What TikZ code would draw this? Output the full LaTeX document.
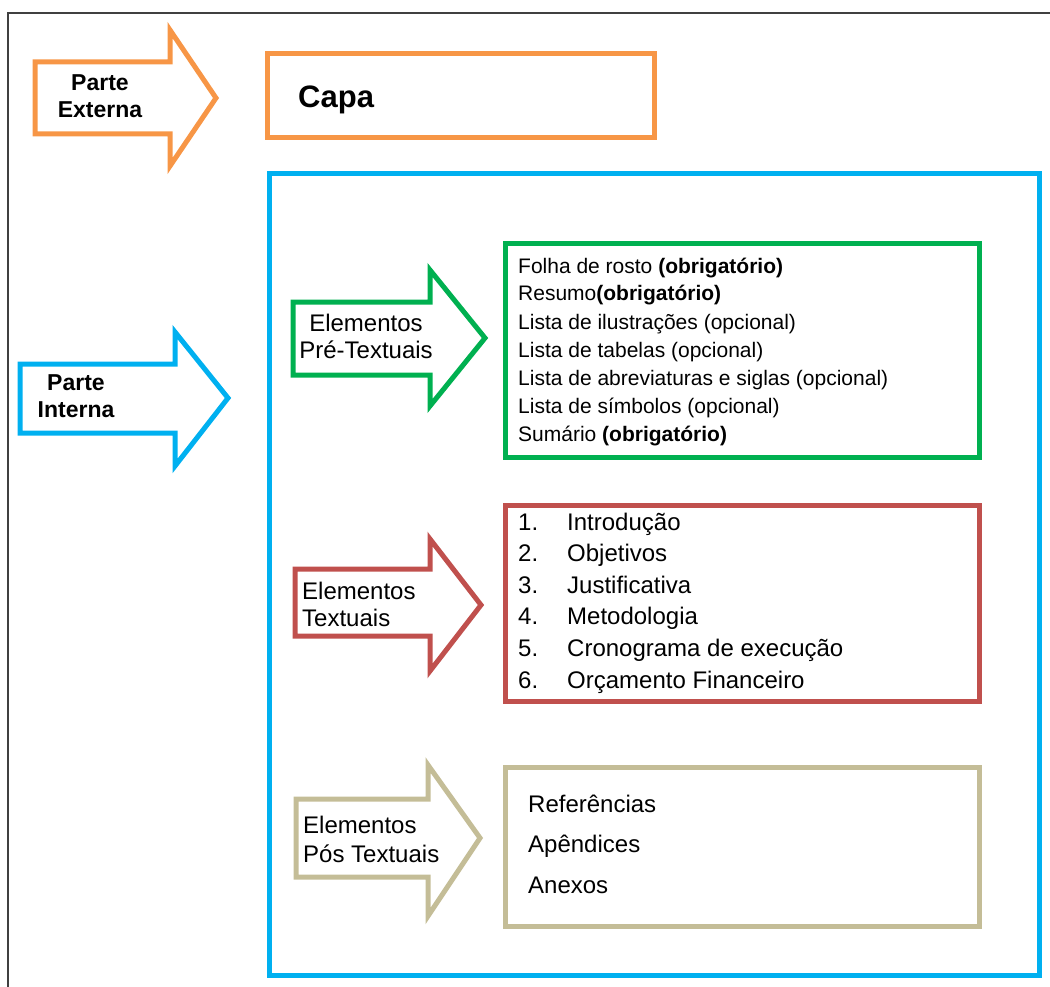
\documentclass[tikz,border=0pt]{standalone}
\usepackage{fontspec}
\setmainfont{Liberation Sans}
\usetikzlibrary{positioning}
\definecolor{extorange}{HTML}{F79646}
\definecolor{intblue}{HTML}{00B0F0}
\definecolor{pregreen}{HTML}{00B050}
\definecolor{txtred}{HTML}{C0504D}
\definecolor{postan}{HTML}{C4BD97}
\tikzset{
  frameline/.style={black!75, line width=1.5pt},
  shapeline/.style={line width=5pt, line join=miter},
  partbox/.style={draw, shapeline, inner sep=0pt, outer sep=0pt, anchor=north west},
  partlabel/.style={inner sep=0pt, align=center, font=\bfseries\fontsize{23}{27}\selectfont},
  armlabel/.style={inner sep=0pt, font=\fontsize{24}{27}\selectfont},
  listitem/.style={inner sep=0pt, anchor=base west, font=\fontsize{21}{28}\selectfont},
  biglist/.style={inner sep=0pt, anchor=base west, font=\fontsize{24}{30}\selectfont},
}

\begin{document}
\begin{tikzpicture}[x=1pt, y=-1pt]
    \useasboundingbox (0,0) rectangle (1050,987);
    % ---------------- page frame ----------------
    \draw[frameline] (8,987) -- (8,13) -- (1050,13);
    % ---------------- parte externa ----------------
    \draw[shapeline, extorange] (35,62) -- (170,62) -- (170,30) -- (216,98)
      -- (170,166) -- (170,134) -- (35,134) -- cycle;
    \node[partlabel] (externa) at (100,96) {Parte\\Externa};
    \node[partbox, draw=extorange, minimum width=387, minimum height=84]
      (capa) at (267,54) {};
    \node[anchor=base west, inner sep=0pt, font=\bfseries\fontsize{31}{31}\selectfont]
      (capatxt) at (298,108) {Capa};
    % ---------------- parte interna ----------------
    \draw[shapeline, intblue] (20,364) -- (175,364) -- (175,332) -- (228,398)
      -- (175,466) -- (175,433) -- (20,433) -- cycle;
    \node[partlabel] (interna) at (76,396) {Parte\\Interna};
    \node[partbox, draw=intblue, minimum width=770, minimum height=801]
      (internabox) at (269,174) {};
    % ---------------- pre-textuais ----------------
    \draw[shapeline, pregreen] (293,302) -- (430,302) -- (430,270) -- (485,338)
      -- (430,406) -- (430,375) -- (293,375) -- cycle;
    \node[armlabel, align=center] (pre) at (366,336) {Elementos\\Pré-Textuais};
    \node[partbox, draw=pregreen, minimum width=474, minimum height=213]
      (prebox) at (505,244) {};
    \foreach \t [count=\i from 0] in {
        {Folha de rosto \textbf{(obrigatório)}},
        {Resumo\textbf{(obrigatório)}},
        {Lista de ilustrações (opcional)},
        {Lista de tabelas (opcional)},
        {Lista de abreviaturas e siglas (opcional)},
        {Lista de símbolos (opcional)},
        {Sumário \textbf{(obrigatório)}}}
      { \node[listitem] (pre\i) at (518,273+28*\i) {\t}; }
    % ---------------- textuais ----------------
    \draw[shapeline, txtred] (295,569) -- (430,569) -- (430,539) -- (481,605)
      -- (430,671) -- (430,636) -- (295,636) -- cycle;
    \node[armlabel, align=left, anchor=west] (txt) at (302,604) {Elementos\\Textuais};
    \node[partbox, draw=txtred, minimum width=474, minimum height=196]
      (txtbox) at (505,505) {};
    \foreach \t [count=\i] in {Introdução, Objetivos, Justificativa, Metodologia,
        Cronograma de execução, Orçamento Financeiro}
      {
        \node[biglist] (num\i) at (518,530+31.6*\i-31.6) {\i.};
        \node[biglist] (txt\i) at (567,530+31.6*\i-31.6) {\t};
      }
    % ---------------- pos-textuais ----------------
    \draw[shapeline, postan] (296,799) -- (428,799) -- (428,765) -- (480,838)
      -- (428,916) -- (428,877) -- (296,877) -- cycle;
    \node[armlabel, align=left, anchor=west, font=\fontsize{24}{29}\selectfont]
      (pos) at (303,839) {Elementos\\Pós Textuais};
    \node[partbox, draw=postan, minimum width=474, minimum height=159]
      (posbox) at (505,767) {};
    \foreach \t [count=\i from 0] in {Referências, Apêndices, Anexos}
      { \node[biglist] (pos\i) at (528,812+40.5*\i) {\t}; }
\end{tikzpicture}
\end{document}
